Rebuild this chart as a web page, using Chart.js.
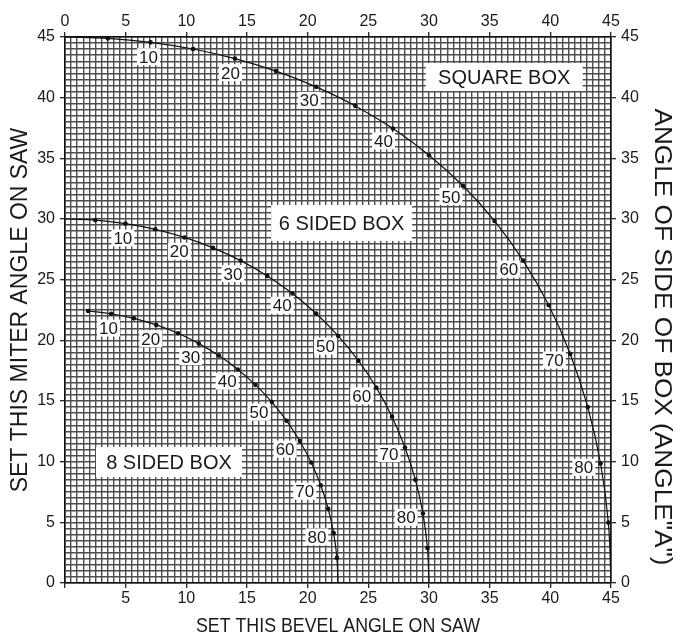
<!DOCTYPE html>
<html>
<head>
<meta charset="utf-8">
<script src="https://cdn.jsdelivr.net/npm/chart.js@4"></script>
<style>
html,body{margin:0;padding:0;background:#fff;}
#wrap{width:677px;height:633px;position:relative;}
</style>
</head>
<body>
<div id="wrap"><canvas id="c"></canvas></div>
<script>
// Angle of side of box (angle "A"), one point every 5 degrees
const sideAngles = [0, 5, 10, 15, 20, 25, 30, 35, 40, 45, 50, 55, 60, 65, 70, 75, 80, 85, 90];
// Square box: bevel (x) and miter (y)
const squareBevel = [0, 3.53, 7.05, 10.55, 14.00, 17.39, 20.70, 23.93, 27.03, 30.00, 32.80, 35.40, 37.76, 39.86, 41.64, 43.08, 44.14, 44.78, 45];
const squareMiter = [45, 44.89, 44.56, 44.01, 43.22, 42.19, 40.89, 39.32, 37.45, 35.26, 32.74, 29.84, 26.57, 22.91, 18.88, 14.51, 9.85, 4.98, 0];
// 6 sided box
const sixBevel = [0, 2.50, 4.98, 7.44, 9.85, 12.20, 14.48, 16.67, 18.75, 20.70, 22.52, 24.18, 25.66, 26.95, 28.02, 28.88, 29.50, 29.87, 30];
const sixMiter = [30, 29.91, 29.62, 29.15, 28.48, 27.62, 26.57, 25.31, 23.86, 22.21, 20.36, 18.32, 16.10, 13.71, 11.17, 8.50, 5.73, 2.88, 0];
// 8 sided box (curve drawn from A = 5)
const eightBevel = [0, 1.91, 3.81, 5.68, 7.52, 9.31, 11.03, 12.68, 14.24, 15.70, 17.05, 18.27, 19.35, 20.29, 21.08, 21.69, 22.14, 22.41, 22.5];
const eightMiter = [22.5, 22.42, 22.19, 21.81, 21.27, 20.58, 19.73, 18.74, 17.60, 16.33, 14.91, 13.37, 11.70, 9.93, 8.06, 6.12, 4.11, 2.07, 0];
const curveStart = [0, 0, 1];
// Angles that carry a number label on each curve
const labelAngles = [10, 20, 30, 40, 50, 60, 70, 80];
// Box names
const boxNames = ['SQUARE BOX', '6 SIDED BOX', '8 SIDED BOX'];
// Axis titles
const xTitle = 'SET THIS BEVEL ANGLE ON SAW';
const yTitle = 'SET THIS MITER ANGLE ON SAW';
const y2Title = 'ANGLE OF SIDE OF BOX (ANGLE"A")';

const FONT = '"Liberation Sans", Arial, Helvetica, sans-serif';

function series(bev, mit, start) {
  const pts = [];
  for (let i = start; i < sideAngles.length; i++) pts.push({x: bev[i], y: mit[i], a: sideAngles[i]});
  return pts;
}

const curves = [
  series(squareBevel, squareMiter, curveStart[0]),
  series(sixBevel, sixMiter, curveStart[1]),
  series(eightBevel, eightMiter, curveStart[2])
];

const datasets = curves.map((pts, k) => ({
  label: boxNames[k],
  data: pts,
  showLine: true,
  borderColor: '#111',
  borderWidth: 1.2,
  backgroundColor: '#111',
  pointBackgroundColor: '#111',
  pointBorderWidth: 0,
  pointRadius: c => (c.raw && (c.raw.a === 0 || c.raw.a === 90)) ? 0 : 2.3,
  tension: 0.4,
  fill: false
}));

// style positions for the white name boxes (in axis units) and their sizes in px
const boxStyle = [
  {x: 36.2, y: 41.7, w: 157, h: 28},
  {x: 22.8, y: 29.67, w: 141, h: 36},
  {x: 8.57, y: 9.97, w: 146, h: 30}
];

const boxPlugin = {
  id: 'boxPlugin',
  beforeDatasetsDraw(chart) {
    const ctx = chart.ctx, xs = chart.scales.x, ys = chart.scales.y;
    ctx.save();
    boxNames.forEach((name, k) => {
      const s = boxStyle[k];
      const cx = xs.getPixelForValue(s.x), cy = ys.getPixelForValue(s.y);
      ctx.fillStyle = '#fff';
      ctx.fillRect(cx - s.w / 2, cy - s.h / 2, s.w, s.h);
      ctx.fillStyle = '#1a1a1a';
      ctx.font = '20px ' + FONT;
      ctx.textAlign = 'center';
      ctx.textBaseline = 'alphabetic';
      ctx.fillText(name, cx, cy + 0.716 * 20 / 2);
    });
    ctx.restore();
  }
};

const labelPlugin = {
  id: 'labelPlugin',
  afterDatasetsDraw(chart) {
    const ctx = chart.ctx;
    ctx.save();
    ctx.font = '17px ' + FONT;
    ctx.textAlign = 'center';
    ctx.textBaseline = 'alphabetic';
    chart.data.datasets.forEach((ds, di) => {
      const meta = chart.getDatasetMeta(di);
      ds.data.forEach((p, i) => {
        if (!labelAngles.includes(p.a)) return;
        const el = meta.data[i], prev = meta.data[i - 1], next = meta.data[i + 1];
        let tx = next.x - prev.x, ty = next.y - prev.y;
        const L = Math.hypot(tx, ty); tx /= L; ty /= L;
        const nx = -ty, ny = tx;
        const cx = el.x + nx * 17, cy = el.y + ny * 13 + 1.5;
        const t = String(p.a);
        const w = ctx.measureText(t).width;
        ctx.fillStyle = '#fff';
        ctx.fillRect(cx - w / 2 - 2, cy - 8.5, w + 4, 17);
        ctx.fillStyle = '#1a1a1a';
        ctx.fillText(t, cx, cy + 0.716 * 17 / 2);
      });
    });
    ctx.restore();
  }
};

const titlePlugin = {
  id: 'titlePlugin',
  afterDraw(chart) {
    const ctx = chart.ctx, a = chart.chartArea;
    ctx.save();
    ctx.fillStyle = '#1a1a1a';
    ctx.textAlign = 'center';
    ctx.textBaseline = 'alphabetic';
    // bottom
    ctx.save();
    ctx.translate((a.left + a.right) / 2, 632);
    ctx.scale(0.89, 1);
    ctx.font = '20px ' + FONT;
    ctx.fillText(xTitle, 0, 0);
    ctx.restore();
    // left
    ctx.save();
    ctx.translate(27, 310);
    ctx.rotate(-Math.PI / 2);
    ctx.font = '23px ' + FONT;
    ctx.fillText(yTitle, 0, 0);
    ctx.restore();
    // right
    ctx.save();
    ctx.translate(655, 337);
    ctx.rotate(Math.PI / 2);
    ctx.scale(1.14, 1);
    ctx.font = '23px ' + FONT;
    ctx.fillText(y2Title, 0, 0);
    ctx.restore();
    ctx.restore();
  }
};

const isFive = v => Math.abs(v / 5 - Math.round(v / 5)) < 1e-6;
const tickCol = c => (c.tick && isFive(c.tick.value)) ? '#111' : 'rgba(0,0,0,0)';

function axis(pos, labelFn, onArea, size) {
  return {
    type: 'linear',
    position: pos,
    min: 0, max: 45,
    afterFit: s => { if (pos === 'left' || pos === 'right') s.width = size; else s.height = size; },
    ticks: {
      stepSize: 0.5,
      autoSkip: false,
      maxRotation: 0,
      minRotation: 0,
      padding: (pos === 'top' || pos === 'bottom') ? 1 : 5,
      color: '#1a1a1a',
      font: {family: FONT, size: 16},
      callback: labelFn
    },
    grid: {
      display: true,
      drawOnChartArea: onArea,
      color: '#4d4d4d',
      lineWidth: 1.4,
      drawTicks: true,
      tickLength: 5,
      tickColor: tickCol,
      tickWidth: 1.2
    },
    border: {display: true, color: '#111', width: 1.6}
  };
}

new Chart(document.getElementById('c'), {
  type: 'scatter',
  data: {datasets},
  options: {
    responsive: true,
    maintainAspectRatio: false,
    animation: false,
    layout: {padding: 0},
    plugins: {legend: {display: false}, tooltip: {enabled: false}, title: {display: false}},
    scales: {
      x: axis('bottom', v => (isFive(v) && v !== 0) ? String(Math.round(v)) : '', true, 50),
      x2: axis('top', v => isFive(v) ? String(Math.round(v)) : '', false, 37),
      y: axis('left', v => isFive(v) ? String(Math.round(v)) : '', true, 65),
      y2: axis('right', v => isFive(v) ? String(Math.round(v)) : '', false, 66)
    }
  },
  plugins: [boxPlugin, labelPlugin, titlePlugin]
});
</script>
</body>
</html>
